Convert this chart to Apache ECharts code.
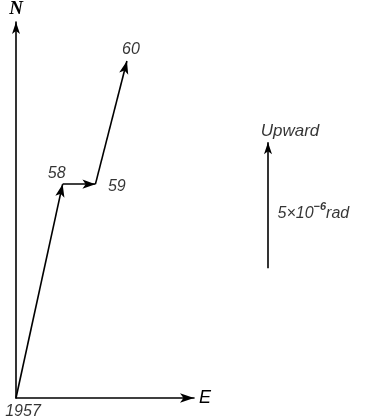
<!DOCTYPE html>
<html><head><meta charset="utf-8">
<script src="https://cdn.jsdelivr.net/npm/echarts@6/dist/echarts.min.js"></script>
<style>html,body{margin:0;padding:0;background:#fff}#c{width:378px;height:418px}</style>
</head><body><div id="c"></div>
<script>
// Tilt vector path (units of 10^-6 rad)
const years = ['1957', '58', '59', '60'];
const east = [0, 1.85, 3.15, 4.4];
const north = [0, 8.6, 8.6, 13.55];
// Scale bar
const scaleValue = 5;        // 10^-6 rad
const scaleBase = 5.15;      // where the bar starts on the N scale
const scaleTitle = 'Upward';

const axisMaxE = 7.06, axisMaxN = 15.12;
const font = 'Liberation Sans';
const labelCfg = [
  {position: 'bottom', offset: [7, 0]},
  {position: 'top', offset: [-6, 3]},
  {position: 'right', offset: [7, 2]},
  {position: 'top', offset: [4, 2]}
];
const pts = years.map((y, i) => ({
  value: [east[i], north[i]], name: y,
  label: Object.assign({show: true, formatter: y}, labelCfg[i])
}));
const segs = [];
for (let i = 0; i < years.length - 1; i++) {
  segs.push([{coord: [east[i], north[i]]}, {coord: [east[i + 1], north[i + 1]]}]);
}
const ink = '#000';
const chart = echarts.init(document.getElementById('c'), null, {renderer: 'canvas'});
chart.setOption({
  animation: false,
  backgroundColor: '#fff',
  grid: [
    {left: 16, top: 17, width: 178, height: 381},
    {left: 258, top: 17, width: 20, height: 381}
  ],
  xAxis: [
    {type: 'value', gridIndex: 0, min: 0, max: axisMaxE, name: 'E', nameLocation: 'end', nameGap: 5,
     nameTextStyle: {fontFamily: font, fontStyle: 'italic', fontSize: 18, color: ink, align: 'left', verticalAlign: 'middle'},
     axisLine: {show: true, symbol: ['none', 'arrow'], symbolSize: [7, 14], lineStyle: {color: ink, width: 1.6}},
     axisTick: {show: false}, axisLabel: {show: false}, splitLine: {show: false}},
    {type: 'value', gridIndex: 1, min: 0, max: 1, show: false}
  ],
  yAxis: [
    {type: 'value', gridIndex: 0, min: 0, max: axisMaxN, name: 'N', nameLocation: 'end', nameGap: 3,
     nameTextStyle: {fontFamily: 'Liberation Serif', fontStyle: 'italic', fontWeight: 'bold', fontSize: 19, color: ink, align: 'center'},
     axisLine: {show: true, symbol: ['none', 'arrow'], symbolSize: [6, 12], lineStyle: {color: ink, width: 1.6}},
     axisTick: {show: false}, axisLabel: {show: false}, splitLine: {show: false}},
    {type: 'value', gridIndex: 1, min: 0, max: axisMaxN, show: false}
  ],
  series: [
    {
      type: 'scatter', xAxisIndex: 0, yAxisIndex: 0, data: pts, symbolSize: 1,
      itemStyle: {color: 'rgba(0,0,0,0)'},
      label: {fontFamily: font, fontStyle: 'italic', fontSize: 16, color: ink},
      emphasis: {disabled: true}, silent: true,
      markLine: {
        silent: true, symbol: ['none', 'arrow'], symbolSize: [7, 13],
        lineStyle: {color: ink, width: 1.6, type: 'solid'}, label: {show: false},
        emphasis: {disabled: true}, data: segs
      }
    },
    {
      type: 'scatter', xAxisIndex: 1, yAxisIndex: 1, symbolSize: 1, silent: true,
      itemStyle: {color: 'rgba(0,0,0,0)'}, emphasis: {disabled: true},
      data: [
        {value: [0.5, scaleBase + scaleValue], label: {show: true, position: 'top', offset: [22, 3], formatter: scaleTitle,
          fontFamily: font, fontStyle: 'italic', fontSize: 17, color: ink}},
        {value: [0.5, scaleBase + scaleValue / 2], label: {show: true, position: 'right', offset: [4, 8],
          formatter: scaleValue + '×10{sup|−6}rad',
          fontFamily: font, fontStyle: 'italic', fontSize: 16, color: ink,
          rich: {sup: {fontFamily: font, fontStyle: 'italic', fontWeight: 'bold', fontSize: 11, color: ink, padding: [0, 0, 12, 0]}}}}
      ],
      markLine: {
        silent: true, symbol: ['none', 'arrow'], symbolSize: [6, 12],
        lineStyle: {color: ink, width: 1.6, type: 'solid'}, label: {show: false},
        emphasis: {disabled: true},
        data: [[{coord: [0.5, scaleBase]}, {coord: [0.5, scaleBase + scaleValue]}]]
      }
    }
  ]
});
</script></body></html>
